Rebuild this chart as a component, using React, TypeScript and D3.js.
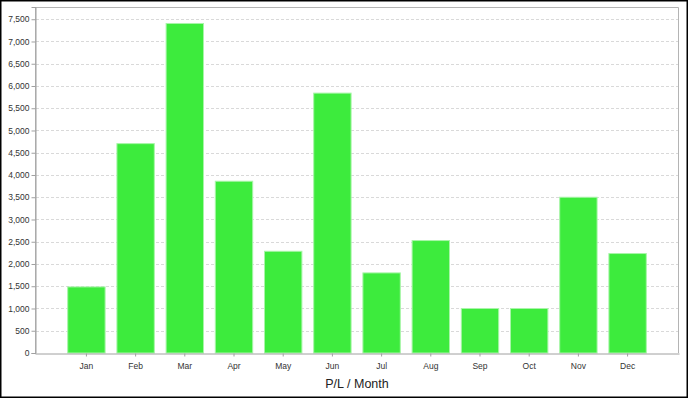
import React, { useEffect, useRef } from 'react';
import * as d3 from 'd3';

const months = ['Jan', 'Feb', 'Mar', 'Apr', 'May', 'Jun', 'Jul', 'Aug', 'Sep', 'Oct', 'Nov', 'Dec'];
const profit = [1485, 4705, 7405, 3860, 2286, 5840, 1800, 2527, 1000, 1000, 3500, 2235];
const yTicks = d3.range(0, 7501, 500);

const App = () => {
  const ref = useRef<SVGSVGElement>(null);

  useEffect(() => {
    const width = 688;
    const height = 398;
    const margin = { top: 7, right: 9, bottom: 45, left: 35 };

    const svg = d3.select(ref.current);
    svg.selectAll('*').remove();
    svg.attr('width', width).attr('height', height);

    // outer frame
    svg.append('rect')
      .attr('x', 0).attr('y', 0)
      .attr('width', width).attr('height', height)
      .attr('fill', '#fff');
    svg.append('rect')
      .attr('x', 0.75).attr('y', 0.75)
      .attr('width', width - 1.5).attr('height', height - 1.5)
      .attr('fill', 'none')
      .attr('stroke', '#000')
      .attr('stroke-width', 1.5);

    const x = d3.scaleBand<string>()
      .domain(months)
      .range([margin.left, width - margin.right])
      .paddingInner(0.24)
      .paddingOuter(0.665);

    const y = d3.scaleLinear()
      .domain([0, d3.max(profit)! * 1.05])
      .range([height - margin.bottom, margin.top]);

    const font = 'Liberation Sans, Arial, sans-serif';

    // grid lines
    svg.append('g')
      .selectAll('line')
      .data(yTicks.filter(d => d > 0))
      .enter()
      .append('line')
      .attr('x1', margin.left + 1)
      .attr('x2', width - margin.right)
      .attr('y1', d => Math.round(y(d)) + 0.5)
      .attr('y2', d => Math.round(y(d)) + 0.5)
      .attr('stroke', '#d9d9d9')
      .attr('stroke-dasharray', '3,2');

    // plot frame (top, right, left)
    svg.append('path')
      .attr('d', `M${margin.left + 0.5},${height - margin.bottom}V${margin.top + 0.5}H${width - margin.right - 0.5}V${height - margin.bottom}`)
      .attr('fill', 'none')
      .attr('stroke', '#b4b4b4');

    // bars
    svg.append('g')
      .selectAll('rect')
      .data(profit)
      .enter()
      .append('rect')
      .attr('x', (_, i) => x(months[i])!)
      .attr('y', d => y(d))
      .attr('width', x.bandwidth())
      .attr('height', d => y(0) - y(d))
      .attr('fill', '#3deb3d')
      .attr('stroke', '#a8f5a8')
      .attr('stroke-width', 1);

    // y axis
    const yAxis = svg.append('g')
      .attr('transform', `translate(${margin.left + 0.5},0)`)
      .call(d3.axisLeft(y).tickValues(yTicks).tickSize(4).tickPadding(2).tickFormat(d3.format(',')));
    yAxis.select('.domain').attr('stroke', '#a0a0a0');
    yAxis.selectAll('.tick line').attr('stroke', '#a0a0a0');
    yAxis.selectAll('text')
      .attr('font-family', font)
      .attr('font-size', 8.5)
      .attr('fill', '#333');

    // x axis
    const xAxis = svg.append('g')
      .attr('transform', `translate(0,${height - margin.bottom + 0.5})`)
      .call(d3.axisBottom(x).tickSize(3).tickSizeOuter(0).tickPadding(6));
    xAxis.select('.domain').attr('stroke', '#a0a0a0');
    xAxis.selectAll('.tick line').attr('stroke', '#a0a0a0');
    xAxis.selectAll('text')
      .attr('font-family', font)
      .attr('font-size', 8.5)
      .attr('fill', '#333');

    // title
    svg.append('text')
      .attr('x', (margin.left + width - margin.right) / 2)
      .attr('y', 388)
      .attr('text-anchor', 'middle')
      .attr('font-family', font)
      .attr('font-size', 12.5)
      .attr('fill', '#222')
      .text('P/L / Month');
  }, []);

  return (
    <svg ref={ref} style={{ position: 'absolute', left: 0, top: 0 }}></svg>
  );
};

export default App;
